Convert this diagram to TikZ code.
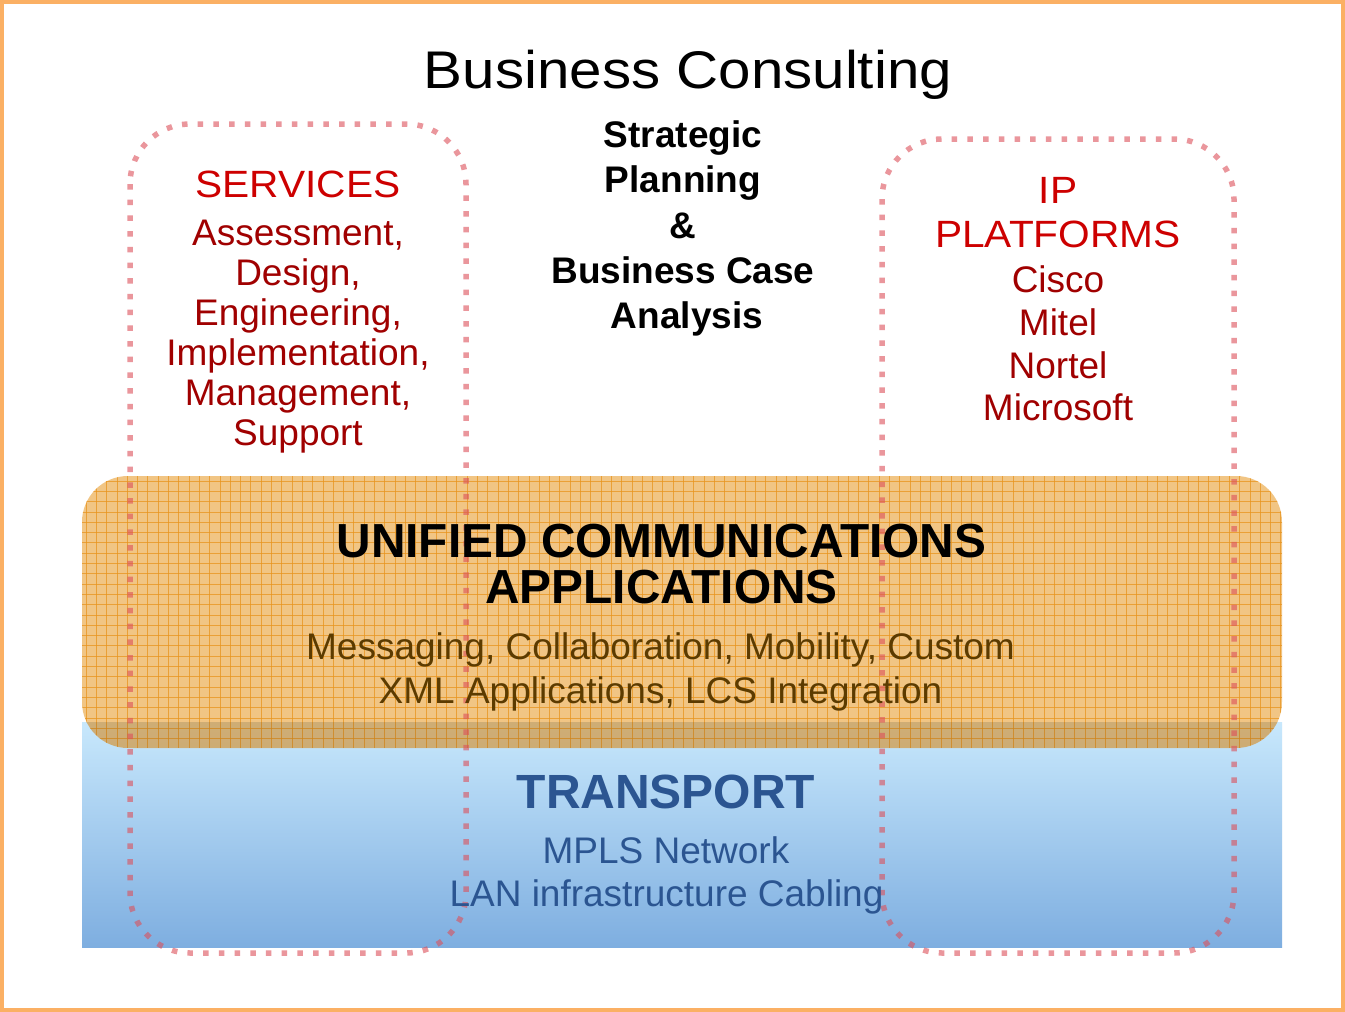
\documentclass[tikz,border=0pt]{standalone}
\usepackage{fontspec}
\setmainfont{Liberation Sans}
\newfontfamily\widefont[FakeStretch=1.07]{Liberation Sans}
\newfontfamily\titlefont[FakeStretch=1.1]{Liberation Sans}
\definecolor{frameorange}{RGB}{251,176,100}
\definecolor{hdrred}{RGB}{205,0,0}
\definecolor{bodyred}{RGB}{160,0,0}
\definecolor{dotred}{RGB}{220,80,90}
\definecolor{ucfill}{RGB}{238,185,105}
\definecolor{ucgrid}{RGB}{232,148,30}
\definecolor{ucbrown}{RGB}{92,59,0}
\definecolor{trblue}{RGB}{43,85,145}
\definecolor{blutop}{RGB}{200,232,252}
\definecolor{blubot}{RGB}{126,174,224}
\begin{document}
\begin{tikzpicture}[x=1pt,y=-1pt,
  txt/.style={inner sep=0pt, anchor=base},
  dotbox/.style={draw=dotred, line width=5.5pt, dash pattern=on 5.5pt off 10.2pt, rounded corners=60pt, draw opacity=0.6},
  gridline/.style={draw=ucgrid, line width=0.8pt, draw opacity=0.75},
  hdr/.style={txt, text=hdrred, font=\widefont\fontsize{38}{44}\selectfont},
  redbody/.style={txt, text=bodyred, font=\fontsize{37}{40}\selectfont},
  strat/.style={txt, text=black, font=\bfseries\fontsize{37}{45}\selectfont},
  ucbig/.style={txt, text=black, font=\bfseries\fontsize{47.8}{46}\selectfont},
  ucsmall/.style={txt, text=ucbrown, font=\fontsize{37}{44}\selectfont},
  trbig/.style={txt, text=trblue, font=\bfseries\fontsize{48}{50}\selectfont},
  trsmall/.style={txt, text=trblue, font=\fontsize{37}{43}\selectfont}]
\useasboundingbox (0,0) rectangle (1345,1012);
\fill[white] (0,0) rectangle (1345,1012);
% outer frame
\draw[frameorange, line width=4pt] (2,2) rectangle (1343,1010);
% transport band
\shade[top color=blutop, bottom color=blubot] (82,722) rectangle (1282,947);
% unified communications band
\fill[ucfill, fill opacity=0.82, rounded corners=46pt] (82,476) rectangle (1282,748);
\begin{scope}
  \clip[rounded corners=46pt] (82,476) rectangle (1282,748);
  \foreach \gx in {86,96.3,...,1282} \draw[gridline] (\gx,476) -- (\gx,748);
  \foreach \gy in {481,491.3,...,748} \draw[gridline] (82,\gy) -- (1282,\gy);
  \fill[black, opacity=0.1] (82,722) rectangle (1282,748);
\end{scope}
% dotted boxes
\draw[dotbox] (130,124) rectangle (466,953);
\draw[dotbox] (882,139) rectangle (1234,953);
% texts
\node[txt, font=\titlefont\fontsize{53}{60}\selectfont] (bc) at (688,88) {Business Consulting};
\node[strat] (s1) at (683,147) {Strategic};
\node[strat] (s2) at (683,192) {Planning};
\node[strat] (s3) at (683,238) {\&};
\node[strat] (s4) at (683,283) {Business Case};
\node[strat] (s5) at (687,328) {Analysis};
\node[hdr] (sv) at (298,197) {SERVICES};
\node[redbody] (sv1) at (298,245) {Assessment,};
\node[redbody] (sv2) at (298,285) {Design,};
\node[redbody] (sv3) at (298,325) {Engineering,};
\node[redbody] (sv4) at (298,365) {Implementation,};
\node[redbody] (sv5) at (298,405) {Management,};
\node[redbody] (sv6) at (298,445) {Support};
\node[hdr] (ip1) at (1058,203) {IP};
\node[hdr] (ip2) at (1058,247) {PLATFORMS};
\node[redbody] (ip3) at (1058,292) {Cisco};
\node[redbody] (ip4) at (1058,335) {Mitel};
\node[redbody] (ip5) at (1058,378) {Nortel};
\node[redbody] (ip6) at (1058,420) {Microsoft};
\node[ucbig] (uc1) at (661.5,557) {UNIFIED COMMUNICATIONS};
\node[ucbig] (uc2) at (661.5,603) {APPLICATIONS};
\node[ucsmall] (uc3) at (660.5,659) {Messaging, Collaboration, Mobility, Custom};
\node[ucsmall] (uc4) at (660.5,703) {XML Applications, LCS Integration};
\node[trbig] (tr1) at (666,808) {TRANSPORT};
\node[trsmall] (tr2) at (666,863) {MPLS Network};
\node[trsmall] (tr3) at (666.5,906) {LAN infrastructure Cabling};
\end{tikzpicture}
\end{document}
